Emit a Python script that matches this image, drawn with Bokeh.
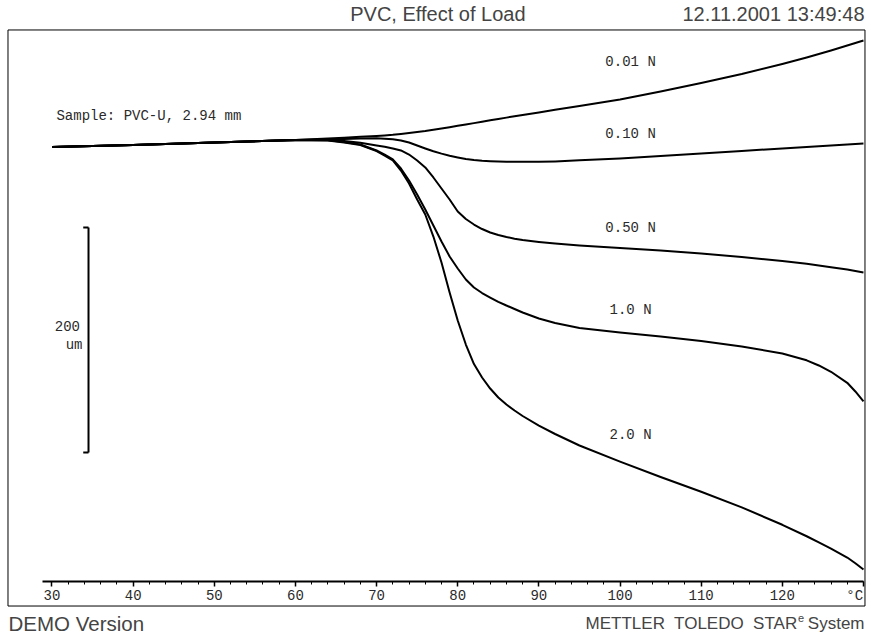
from bokeh.plotting import figure
from bokeh.models import Range1d, LinearAxis, SingleIntervalTicker, Label, ColumnDataSource
from bokeh.embed import file_html
from bokeh.resources import INLINE
from bokeh.core.properties import value

# Temperature (°C) and displacement (µm, relative to start) for each load
temperature = [30, 40, 50, 60, 64, 66, 68, 70, 71, 72, 73, 74, 75, 76, 77, 78, 79, 80,
               81, 82, 83, 84, 85, 86, 87, 88, 90, 92, 95, 100, 105, 110, 115, 120, 123, 124.5, 126, 128, 129, 130]
disp_001N = [0, 1.8, 4.0, 6.2, 7.6, 8.3, 9.0, 9.8, 10.3, 10.8, 11.6, 12.4, 13.3, 14.2, 15.3, 16.4, 17.6, 18.8,
             20.0, 21.2, 22.5, 23.7, 24.9, 26.1, 27.3, 28.4, 30.7, 33.1, 36.4, 42.2, 49.3, 56.9, 64.9, 73.8, 79.6, 82.7, 85.8, 90.2, 92.4, 94.7]
disp_010N = [0, 1.8, 4.0, 6.2, 6.8, 7.2, 7.6, 7.7, 7.4, 6.8, 5.8, 4.0, 1.3, -1.3, -3.8, -5.9, -7.8, -9.3,
             -10.7, -11.6, -12.2, -12.6, -12.9, -13.1, -13.2, -13.2, -13.2, -12.8, -11.8, -10.2, -8.0, -5.8, -3.6, -1.3, 0.0, 0.7, 1.3, 2.2, 2.7, 3.1]
disp_050N = [0, 1.8, 4.0, 6.2, 6.2, 5.3, 3.8, 1.3, 0.2, -1.3, -3.1, -6.7, -12.0, -18.2, -27.1, -36.9, -46.7, -57.3,
             -64.0, -68.9, -72.9, -76.0, -78.2, -80.0, -81.5, -82.7, -84.4, -85.8, -87.6, -89.8, -92.0, -94.7, -97.8, -101.3, -103.8, -105.3, -106.9, -108.9, -110.2, -111.6]
disp_10N = [0, 1.8, 4.0, 6.2, 6.0, 4.4, 2.2, -3.1, -6.7, -11.1, -19.1, -29.8, -42.2, -55.6, -69.8, -84.0, -97.3, -108.0,
            -117.8, -124.9, -129.8, -133.8, -137.6, -140.9, -144.0, -147.1, -152.4, -156.4, -160.9, -164.9, -168.4, -172.4, -177.3, -183.6, -189.6, -194.2, -199.8, -209.6, -217.3, -226.2]
disp_20N = [0, 1.8, 4.0, 6.2, 5.8, 4.0, 1.8, -3.6, -7.6, -12.0, -20.9, -32.4, -46.7, -60.0, -79.6, -102.7, -129.3, -154.2,
            -175.6, -192.9, -204.9, -214.7, -222.7, -228.9, -234.2, -239.1, -247.6, -255.1, -265.3, -279.6, -293.3, -306.4, -320.3, -335.8, -346.0, -351.4, -357.0, -364.9, -370.0, -375.6]

load_labels = ["0.01 N", "0.10 N", "0.50 N", "1.0 N", "2.0 N"]
label_temp = [101.3, 101.3, 101.3, 101.3, 101.3]
label_disp = [75.1, 11.1, -72.4, -145.3, -256.4]

x_ticks_interval = 10
scale_bar_um = 200

MONO = value("Liberation Mono")
SANS = "Liberation Sans"
TXT = "#2a2a2a"

W, H = 871, 635
p = figure(width=W, height=H, output_backend="svg", toolbar_location=None,
           x_range=Range1d(23.654, 130.99), y_range=Range1d(-434.2, 130.2),
           x_axis_location=None, y_axis_location=None,
           min_border_left=0, min_border_right=0, min_border_top=0, min_border_bottom=0,
           outline_line_color=None,
           background_fill_color="white", border_fill_color="white")
p.xgrid.visible = False
p.ygrid.visible = False

# outer frame box
p.quad(left=[24.578], right=[130.187], top=[104.0], bottom=[-408.0],
       fill_color=None, line_color="black", line_width=1)

src = ColumnDataSource(dict(t=temperature, a=disp_001N, b=disp_010N, c=disp_050N, d=disp_10N, e=disp_20N))
for col in ["a", "b", "c", "d", "e"]:
    p.line("t", col, source=src, line_color="black", line_width=2, line_join="round")

p.text(x=label_temp, y=label_disp, text=load_labels, text_font=MONO, text_font_size="14px",
       text_color=TXT, text_align="center", text_baseline="middle")

p.text(x=[30.55], y=[27.1], text=["Sample: PVC-U, 2.94 mm"], text_font=MONO, text_font_size="14px",
       text_color=TXT, text_align="left", text_baseline="middle")

# 200 um scale bar
bar_x = 34.5
bar_top = -71.6
p.segment(x0=[bar_x], y0=[bar_top], x1=[bar_x], y1=[bar_top - scale_bar_um], line_color="black", line_width=2)
p.segment(x0=[bar_x - 0.65, bar_x - 0.65], y0=[bar_top, bar_top - scale_bar_um],
          x1=[bar_x, bar_x], y1=[bar_top, bar_top - scale_bar_um], line_color="black", line_width=2)
p.text(x=[33.45], y=[-158.7], text=[str(scale_bar_um)], text_font=MONO, text_font_size="14px",
       text_color=TXT, text_align="right", text_baseline="middle")
p.text(x=[33.76], y=[-176.4], text=["um"], text_font=MONO, text_font_size="14px",
       text_color=TXT, text_align="right", text_baseline="middle")

xaxis = LinearAxis(fixed_location=-385.8, bounds=(28.8, 130),
                   ticker=SingleIntervalTicker(interval=x_ticks_interval, num_minor_ticks=5),
                   major_label_overrides={130: "°C\u00a0"},
                   axis_line_width=2, axis_line_color="black",
                   major_tick_in=0, major_tick_out=5, major_tick_line_width=1.5,
                   minor_tick_in=0, minor_tick_out=3, minor_tick_line_width=1,
                   major_label_text_font="Liberation Mono", major_label_text_font_size="14px",
                   major_label_text_color=TXT, major_label_standoff=2)
p.add_layout(xaxis, "below")

# header and footer texts (screen units, frame = whole canvas)
p.add_layout(Label(x=525, y=H - 13, x_units="screen", y_units="screen", text="PVC, Effect of Load",
                   text_font=SANS, text_font_size="20px", text_align="right", text_baseline="alphabetic"))
p.add_layout(Label(x=864, y=H - 13, x_units="screen", y_units="screen", text="12.11.2001 13:49:48",
                   text_font=SANS, text_font_size="20px", text_align="right", text_baseline="alphabetic"))
p.add_layout(Label(x=8, y=H - 623, x_units="screen", y_units="screen", text="DEMO Version",
                   text_font=SANS, text_font_size="20.5px", text_align="left", text_baseline="alphabetic"))
p.add_layout(Label(x=797, y=H - 623, x_units="screen", y_units="screen", text="METTLER\u00a0 TOLEDO\u00a0 STAR",
                   text_font=SANS, text_font_size="17px", text_align="right", text_baseline="alphabetic"))
p.add_layout(Label(x=797.5, y=H - 617, x_units="screen", y_units="screen", text="e",
                   text_font=SANS, text_font_size="11px", text_align="left", text_baseline="alphabetic"))
p.add_layout(Label(x=864, y=H - 623, x_units="screen", y_units="screen", text="System",
                   text_font=SANS, text_font_size="17px", text_align="right", text_baseline="alphabetic"))

open("out.html", "w").write(file_html(p, INLINE))
